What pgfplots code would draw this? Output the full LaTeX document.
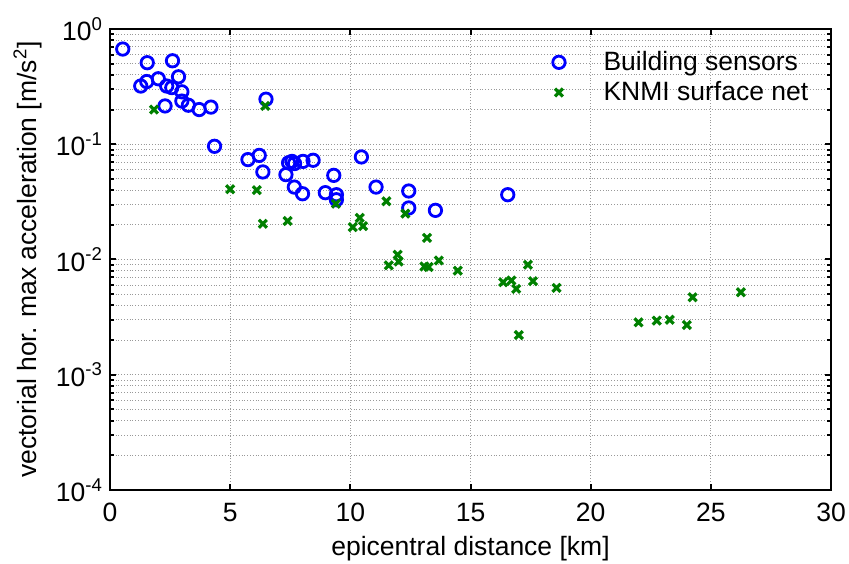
\documentclass[border=0pt]{standalone}
\usepackage{pgfplots}
\pgfplotsset{compat=1.18}
\usepackage{fontspec}
\setmainfont{Liberation Sans}
\definecolor{mblue}{RGB}{0,0,255}
\definecolor{mgreen}{RGB}{0,128,0}
\begin{document}
\begin{tikzpicture}
\begin{axis}[name=ax,
  scale only axis, width=360.5pt, height=230.5pt,
  ymode=log, xmin=0, xmax=30, ymin=1e-4, ymax=1,
  xtick={0,5,...,30},
  ytick={1e-4,1e-3,1e-2,1e-1,1},
  yticklabels={10\textsuperscript{-4},10\textsuperscript{-3},10\textsuperscript{-2},10\textsuperscript{-1},10\textsuperscript{0}},
  /pgf/number format/assume math mode=true,
  tick label style={font=\fontsize{13.25pt}{15pt}\selectfont},
  xticklabel style={yshift=-3pt},
  label style={font=\fontsize{13.25pt}{15pt}\selectfont},
  xlabel={epicentral distance [km]},
  xlabel style={yshift=-0.5pt},
  ylabel={vectorial hor. max acceleration [m/s\textsuperscript{2}]},
  grid=both,
  major grid style={densely dotted, gray!80, line width=0.5pt},
  minor grid style={densely dotted, gray!80, line width=0.5pt},
  axis line style={line width=1.2pt},
  tick style={black, line width=1pt},
  tick align=inside, major tick length=3pt, minor tick length=2pt,
  legend image code/.code={\path (-4pt,0pt) (19.5pt,0pt); \draw[#1] plot coordinates {(0pt,0pt)};},
  legend style={draw=none, fill=none, font=\fontsize{13.25pt}{15pt}\selectfont,
    at={(0.6005,0.970)}, anchor=north west},
  legend cell align=left,
]
\addplot[only marks, mark=o, mark size=3.1pt, mblue, line width=1.4pt] coordinates {
(0.53,0.67) (1.28,0.32) (1.53,0.35) (1.55,0.51) (2.01,0.37) (2.29,0.215)
(2.36,0.32) (2.57,0.31) (2.6,0.53) (2.85,0.385) (2.99,0.285) (2.99,0.237)
(3.26,0.218) (3.71,0.20) (4.2,0.21) (4.35,0.096) (5.74,0.0736) (6.21,0.080)
(6.36,0.0575) (6.49,0.246) (7.32,0.0545) (7.43,0.069) (7.57,0.071) (7.68,0.068)
(7.67,0.0425) (8.01,0.0372) (8.03,0.071) (8.45,0.0726) (8.96,0.038) (9.31,0.0537)
(9.42,0.0365) (9.42,0.033) (10.46,0.0776) (11.07,0.0425) (12.43,0.0393) (12.43,0.028)
(13.54,0.0267) (16.55,0.0365)
};
\addlegendentry{Building sensors}
\addplot[only marks, mark=x, mark size=2.8pt, mgreen, line width=1.6pt] coordinates {
(1.83,0.20) (5.0,0.0407) (6.11,0.040) (6.36,0.0204) (6.46,0.215) (7.39,0.0216)
(9.40,0.0305) (10.1,0.0191) (10.39,0.023) (10.53,0.0195) (11.5,0.032) (11.6,0.0089)
(11.97,0.011) (12.01,0.0096) (12.29,0.025) (13.08,0.0087) (13.19,0.0154) (13.26,0.0086)
(13.68,0.0098) (14.47,0.0080) (16.36,0.00635) (16.7,0.00657) (16.9,0.00556) (17.01,0.00221)
(17.39,0.009) (17.6,0.00648) (18.58,0.00567) (21.99,0.00285) (22.75,0.00295) (23.29,0.0030)
(24.0,0.0027) (24.24,0.0047) (26.25,0.0052)
};
\addlegendentry{KNMI surface net}
\end{axis}
\pgfresetboundingbox
\path[use as bounding box] ([xshift=-55pt,yshift=-37pt]ax.south west) rectangle ([xshift=9pt,yshift=14.5pt]ax.north east);
\end{tikzpicture}
\end{document}
